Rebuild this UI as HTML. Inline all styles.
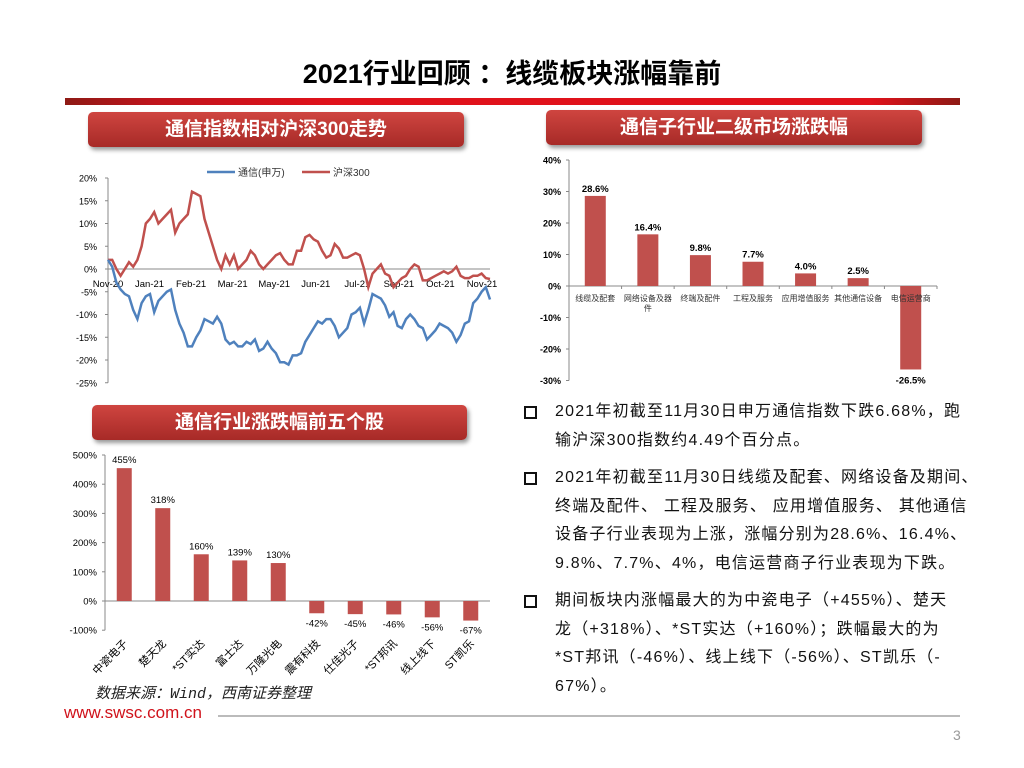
<!DOCTYPE html>
<html><head><meta charset="utf-8">
<style>
body{margin:0;width:1024px;height:768px;background:#fff;position:relative;overflow:hidden;font-family:"Liberation Sans","Noto Sans CJK SC",sans-serif}
.abs{position:absolute}
.tbox{position:absolute;height:35px;border-radius:5px;background:linear-gradient(#cf4540,#a72a27);box-shadow:2px 3px 4px #999;color:#fff;font-weight:bold;font-size:19px;text-align:center;line-height:35px}
.txt{position:absolute;left:555px;width:440px;font-size:16px;line-height:28.7px;color:#111;white-space:nowrap;letter-spacing:1.2px}
.bul{position:absolute;left:524px;width:9px;height:9px;border:2px solid #111}
</style></head><body>
<div class="abs" style="left:0;width:1024px;top:52px;text-align:center;font-size:27px;font-weight:bold;color:#000">2021行业回顾 ：线缆板块涨幅靠前</div>
<div class="abs" style="left:65px;top:98px;width:895px;height:7px;background:linear-gradient(90deg,#8e1a15 0%,#c0141c 10%,#e0121b 30%,#e0121b 90%,#8e1a15 100%)"></div>
<div class="tbox" style="left:88px;top:112px;width:376px">通信指数相对沪深300走势</div>
<div class="tbox" style="left:546px;top:110px;width:376px">通信子行业二级市场涨跌幅</div>
<div class="tbox" style="left:92px;top:405px;width:375px">通信行业涨跌幅前五个股</div>

<svg class="abs" style="left:0;top:0" width="1024" height="768" id="svg"></svg>

<div class="bul" style="top:406px"></div>
<div class="txt" style="top:398px">2021年初截至11月30日申万通信指数下跌6.68%，跑<br>输沪深300指数约4.49个百分点。</div>
<div class="bul" style="top:472px"></div>
<div class="txt" style="top:464px">2021年初截至11月30日线缆及配套、网络设备及期间、<br>终端及配件、 工程及服务、 应用增值服务、 其他通信<br>设备子行业表现为上涨，涨幅分别为28.6%、16.4%、<br>9.8%、7.7%、4%，电信运营商子行业表现为下跌。</div>
<div class="bul" style="top:595px"></div>
<div class="txt" style="top:587px">期间板块内涨幅最大的为中瓷电子（+455%）、楚天<br>龙（+318%）、*ST实达（+160%）；跌幅最大的为<br>*ST邦讯（-46%）、线上线下（-56%）、ST凯乐（-<br>67%）。</div>

<div class="abs" style="left:95px;top:682px;font-size:15px;font-style:italic;color:#222;font-family:'Liberation Mono','Noto Sans CJK SC',monospace">数据来源：Wind，西南证券整理</div>
<div class="abs" style="left:64px;top:703px;font-size:17px;color:#d0121b">www.swsc.com.cn</div>
<div class="abs" style="left:218px;top:715px;width:742px;height:2px;background:#bbb"></div>
<div class="abs" style="left:953px;top:727px;font-size:14px;color:#999">3</div>

<script>
const NS="http://www.w3.org/2000/svg";
const svg=document.getElementById('svg');
function mk(t,a,p){const e=document.createElementNS(NS,t);for(const k in a)e.setAttribute(k,a[k]);(p||svg).appendChild(e);return e;}

const months=["Nov-20","Jan-21","Feb-21","Mar-21","May-21","Jun-21","Jul-21","Sep-21","Oct-21","Nov-21"];
const yTicks1=[20,15,10,5,0,-5,-10,-15,-20,-25];
const hs300=[2,2,0,-1.5,0,1.5,0.5,2,5,10,11,12.5,10,11,12,13,8,10,11,12,17,16.5,16,11,8,5,2,0,3,1,3,0,1,2,4,3,1,0,1,2,3,3.5,2,1,1,4,4,7,7.5,6.5,6,4,2.5,3,5.5,4.5,2.5,2.5,3,3.5,3,0,-4,-1,0,1,-1,-1.5,-4,-3,-2,-1.5,0,1,0.5,-2.5,-2.5,-2,-1.5,-1,-0.5,-1,-0.5,0.5,-1.5,-2,-2,-1.5,-1.5,-1,-2,-2.2];
const tongxin=[2,0.5,-3,-4.5,-5.5,-6,-9,-11,-7.5,-6,-5.5,-9.5,-7,-6,-5,-4.5,-9,-12,-14,-17,-17,-15,-13.5,-11,-11.5,-12,-10.5,-12,-15.5,-16.5,-16,-17,-17,-16,-16.5,-15.5,-18,-17.5,-16,-17.5,-18.5,-20.5,-20.5,-21,-19,-19,-18.5,-16,-14.5,-13,-11.5,-12,-11,-11,-12.5,-15,-14,-13,-10,-9.5,-8.5,-12,-9,-5.5,-6,-6.5,-8,-10.5,-9.5,-12.5,-13,-11,-10,-11,-12.5,-13,-15.5,-14.5,-13.5,-12,-12.5,-13,-14,-16,-14.5,-12,-11.5,-7.5,-6.5,-5,-4,-6.7];
const X0=108,X1=490;
const y1=v=>269-v*4.55;
const g1=mk('g',{});
yTicks1.forEach(v=>{const t=mk('text',{x:97,y:y1(v)+3.5,'font-size':9,'text-anchor':'end',fill:'#000'},g1);t.textContent=v+'%';
 mk('line',{x1:X0-3,x2:X0,y1:y1(v),y2:y1(v),stroke:'#888'},g1);});
mk('line',{x1:X0,x2:X0,y1:y1(20),y2:y1(-25),stroke:'#888'},g1);
mk('line',{x1:X0,x2:X1,y1:y1(0),y2:y1(0),stroke:'#888'},g1);
months.forEach((m,i)=>{const x=X0+i*(X1-X0-8)/(months.length-1);const t=mk('text',{x:x,y:287,'font-size':9.5,'text-anchor':'middle',fill:'#000'},g1);t.textContent=m;});
function line(arr,col,name){const d=arr.map((v,i)=>(i?'L':'M')+(X0+i*(X1-X0)/(arr.length-1)).toFixed(1)+','+y1(v).toFixed(1)).join('');
 const p=mk('path',{d:d,fill:'none',stroke:col,'stroke-width':2.5},g1);}
line(hs300,'#c0504d','hs300-line');
line(tongxin,'#4f81bd','tongxin-line');
mk('line',{x1:207,x2:235,y1:172,y2:172,stroke:'#4f81bd','stroke-width':2.5},g1);
let lt=mk('text',{x:238,y:176,'font-size':10,fill:'#333'},g1);lt.textContent='通信(申万)';

mk('line',{x1:302,x2:330,y1:172,y2:172,stroke:'#c0504d','stroke-width':2.5},g1);
lt=mk('text',{x:333,y:176,'font-size':10,fill:'#333'},g1);lt.textContent='沪深300';


const subCats=["线缆及配套","网络设备及器件","终端及配件","工程及服务","应用增值服务","其他通信设备","电信运营商"];
const subVals=[28.6,16.4,9.8,7.7,4.0,2.5,-26.5];
const yTicks2=[40,30,20,10,0,-10,-20,-30];
const AX2=569,AX2E=937,y2=v=>286-v*3.15;
const g2=mk('g',{});
yTicks2.forEach(v=>{const t=mk('text',{x:561,y:y2(v)+3.5,'font-size':9,'font-weight':'bold','text-anchor':'end',fill:'#000'},g2);t.textContent=v+'%';
 mk('line',{x1:AX2-3,x2:AX2,y1:y2(v),y2:y2(v),stroke:'#888'},g2);});
mk('line',{x1:AX2,x2:AX2,y1:y2(40),y2:y2(-30),stroke:'#888'},g2);
mk('line',{x1:AX2,x2:AX2E,y1:y2(0),y2:y2(0),stroke:'#888'},g2);
const st2=(AX2E-AX2)/subCats.length;
subCats.forEach((c,i)=>{const cx=AX2+st2*(i+0.5),v=subVals[i];
 const r=mk('rect',{x:cx-10.5,y:Math.min(y2(v),y2(0)),width:21,height:Math.abs(y2(v)-y2(0)),fill:'#c0504d'},g2);
 
 const t=mk('text',{x:cx,y:v>=0?y2(v)-4:y2(v)+14,'font-size':9.5,'font-weight':'bold','text-anchor':'middle',fill:'#000'},g2);t.textContent=v.toFixed(1)+'%';
 mk('line',{x1:AX2+st2*(i+1),x2:AX2+st2*(i+1),y1:y2(0),y2:y2(0)+3,stroke:'#888'},g2);
 const lines=c==="网络设备及器件"?["网络设备及器","件"]:[c];
 lines.forEach((l,j)=>{const tt=mk('text',{x:cx,y:301+j*10,'font-size':8,'text-anchor':'middle',fill:'#333'},g2);tt.textContent=l;});
});

const stocks=["中瓷电子","楚天龙","*ST实达","富士达","万隆光电","震有科技","仕佳光子","*ST邦讯","线上线下","ST凯乐"];
const stockVals=[455,318,160,139,130,-42,-45,-46,-56,-67];
const yTicks3=[500,400,300,200,100,0,-100];
const AX3=105,AX3E=490,y3=v=>601-v*0.292;
const g3=mk('g',{});
yTicks3.forEach(v=>{const t=mk('text',{x:97,y:y3(v)+3.5,'font-size':9.5,'text-anchor':'end',fill:'#000'},g3);t.textContent=v+'%';
 mk('line',{x1:AX3-3,x2:AX3,y1:y3(v),y2:y3(v),stroke:'#888'},g3);});
mk('line',{x1:AX3,x2:AX3,y1:y3(500),y2:y3(-100),stroke:'#888'},g3);
mk('line',{x1:AX3,x2:AX3E,y1:y3(0),y2:y3(0),stroke:'#888'},g3);
const st3=(AX3E-AX3)/stocks.length;
stocks.forEach((c,i)=>{const cx=AX3+st3*(i+0.5),v=stockVals[i];
 const r=mk('rect',{x:cx-7.5,y:Math.min(y3(v),y3(0)),width:15,height:Math.abs(y3(v)-y3(0)),fill:'#c0504d'},g3);
 
 const t=mk('text',{x:cx,y:v>=0?y3(v)-5:y3(v)+13,'font-size':9.5,'text-anchor':'middle',fill:'#000'},g3);t.textContent=v+'%';
 const tt=mk('text',{x:cx+4,y:y3(-100)+14,'font-size':11,'text-anchor':'end',fill:'#000',transform:`rotate(-45 ${cx+4} ${y3(-100)+14})`},g3);tt.textContent=c;
});
</script>
</body></html>
